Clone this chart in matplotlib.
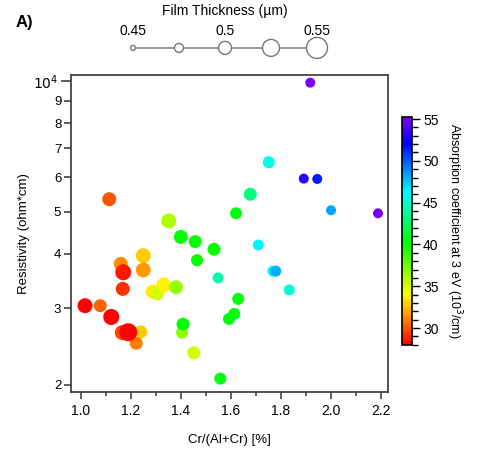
import numpy as np
import matplotlib
matplotlib.use("Agg")
import matplotlib.pyplot as plt
from matplotlib.colors import ListedColormap, hsv_to_rgb
from matplotlib.ticker import FixedLocator, FixedFormatter

plt.rcParams["font.family"] = ["Liberation Sans", "DejaVu Sans"]

# Cr fraction, resistivity (ohm*cm), absorption coefficient (10^3/cm), thickness (um)
cr_frac = [1.159, 1.169, 1.167, 1.249, 1.249, 1.287, 1.305, 1.331, 1.380,
           1.016, 1.077, 1.121, 1.165, 1.239, 1.221, 1.189, 1.404, 1.408,
           1.451, 1.620, 1.351, 1.399, 1.457, 1.532, 1.464, 1.709, 1.548,
           1.768, 1.779, 1.833, 1.629, 1.613, 1.592, 1.557, 1.751, 1.677,
           1.917, 1.891, 1.945, 2.000, 2.188, 1.113]
resistivity = [3797, 3631, 3325, 3966, 3676, 3278, 3238, 3396, 3354,
               3042, 3042, 2866, 2638, 2648, 2494, 2643, 2638, 2758,
               2371, 4962, 4765, 4378, 4271, 4102, 3870, 4196, 3524,
               3652, 3652, 3308, 3154, 2912, 2836, 2068, 6502, 5488,
               9910, 5962, 5952, 5042, 4962, 5346]
absorption = [31.3, 28.6, 29.2, 32.8, 31.6, 33.6, 35.2, 33.8, 36.5,
              28.0, 30.4, 28.0, 29.6, 32.8, 31.0, 28.0, 36.8, 40.0,
              35.2, 40.6, 36.0, 40.0, 40.0, 40.0, 40.0, 46.4, 44.0,
              46.5, 48.0, 45.0, 40.5, 40.5, 40.5, 40.5, 45.6, 43.2,
              55.0, 53.2, 51.5, 48.4, 55.0, 30.0]
thickness = [0.506, 0.519, 0.506, 0.512, 0.512, 0.506, 0.500, 0.512, 0.506,
             0.512, 0.500, 0.519, 0.512, 0.500, 0.500, 0.531, 0.494, 0.500,
             0.500, 0.494, 0.512, 0.506, 0.500, 0.500, 0.494, 0.487, 0.487,
             0.487, 0.487, 0.487, 0.494, 0.494, 0.494, 0.494, 0.494, 0.500,
             0.481, 0.481, 0.481, 0.481, 0.481, 0.506]

legend_thick = [0.45, 0.475, 0.5, 0.525, 0.55]
legend_labels = ["0.45", "", "0.5", "", "0.55"]
x_ticks = [1.0, 1.2, 1.4, 1.6, 1.8, 2.0, 2.2]
y_ticks = [2000, 3000, 4000, 5000, 6000, 7000, 8000, 9000]
y_labels = ["2", "3", "4", "5", "6", "7", "8", "9"]
cb_ticks = [30, 35, 40, 45, 50, 55]

# rainbow: hue from red to violet
hues = np.linspace(0, 0.75, 256)
cmap = ListedColormap(hsv_to_rgb(np.column_stack([hues, np.ones(256), np.ones(256)])))


def marker_size(t):
    d_px = 5 + (np.asarray(t) - 0.45) * 160
    return (d_px * 0.72) ** 2


fig = plt.figure(figsize=(4.8, 4.53), dpi=100)
ax = fig.add_axes([71 / 480, 1 - 392 / 453, 317 / 480, 317 / 453])
sc = ax.scatter(cr_frac, resistivity, c=absorption, s=marker_size(thickness),
                cmap=cmap, vmin=27.97, vmax=55.24, edgecolors="none", zorder=3)
ax.set_yscale("log")
ax.set_xlim(0.96, 2.228)
ax.set_ylim(1926, 10320)

ax.set_xticks(x_ticks)
ax.set_xticklabels([f"{v:.1f}" for v in x_ticks])
ax.xaxis.set_minor_locator(FixedLocator(np.arange(1.1, 2.21, 0.2)))
ax.yaxis.set_major_locator(FixedLocator([10000]))
ax.yaxis.set_major_formatter(FixedFormatter([r"$10^4$"]))
ax.yaxis.set_minor_locator(FixedLocator(y_ticks))
ax.yaxis.set_minor_formatter(FixedFormatter(y_labels))

for side in ["top", "right", "left", "bottom"]:
    ax.spines[side].set_color("#444444")
    ax.spines[side].set_linewidth(1.3)
ax.tick_params(axis="both", which="both", direction="out", colors="#333333",
               labelcolor="black", labelsize=10, width=1.1)
ax.tick_params(axis="x", which="major", length=5)
ax.tick_params(axis="x", which="minor", length=3)
ax.tick_params(axis="y", which="major", length=7, pad=2)
ax.tick_params(axis="y", which="minor", length=5, labelsize=9.5, pad=2)
ax.set_xlabel("Cr/(Al+Cr) [%]", fontsize=9.5, labelpad=12)
ax.set_ylabel("Resistivity (ohm*cm)", fontsize=9.5, labelpad=2)

# colorbar
cax = fig.add_axes([402 / 480, 1 - 345 / 453, 10 / 480, 228 / 453])
cb = fig.colorbar(sc, cax=cax)
cb.set_ticks(cb_ticks)
cb.ax.yaxis.set_minor_locator(FixedLocator(np.arange(28, 56, 1)))
cb.ax.tick_params(which="major", length=6, width=1, labelsize=10, pad=2)
cb.ax.tick_params(which="minor", length=4, width=1)
cb.outline.set_linewidth(1.2)
cb.set_label(r"Absorption coefficient at 3 eV (10$^3$/cm)", rotation=-90,
             fontsize=9, labelpad=18)

# thickness size legend
lax = fig.add_axes([120 / 480, 1 - 62 / 453, 210 / 480, 30 / 453])
lax.set_xlim(0.45 - 13 / 1840, 0.55 + 13 / 1840)
lax.set_ylim(0, 1)
lax.axis("off")
lax.plot(legend_thick, [0.47] * 5, color="#888888", lw=1.2, zorder=1)
lax.scatter(legend_thick, [0.47] * 5, s=marker_size(legend_thick),
            facecolors="white", edgecolors="#777777", linewidths=1.0, zorder=2)
for t, lab in zip(legend_thick, legend_labels):
    fx = (133 + (t - 0.45) * 1840) / 480
    fig.text(fx, 1 - 31 / 453, lab, ha="center", va="center", fontsize=10)
fig.text(225 / 480, 1 - 11 / 453, "Film Thickness (µm)", ha="center", va="center",
         fontsize=10)
fig.text(24 / 480, 1 - 22 / 453, "A)", ha="center", va="center", fontsize=12,
         fontweight="bold")

fig.savefig("out.png", dpi=100)
